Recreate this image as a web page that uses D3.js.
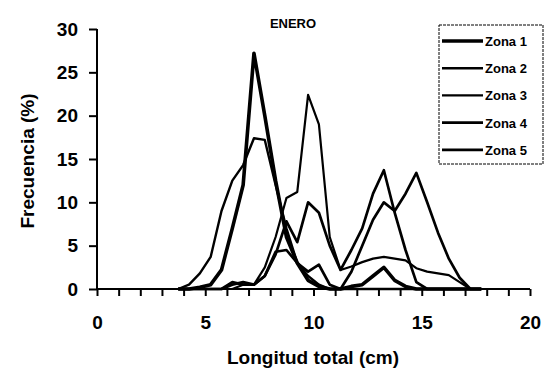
<!DOCTYPE html>
<html>
<head>
<meta charset="utf-8">
<script src="https://cdn.jsdelivr.net/npm/d3@7"></script>
<style>
  body { margin: 0; background: #fff; }
  svg { display: block; font-family: "Liberation Sans", Arial, sans-serif; }
</style>
</head>
<body>
<div id="grafico"></div>
<script>
// longitud (cm) - marcas de clase cada 0.5 cm
const longitudes = [3.75, 4.25, 4.75, 5.25, 5.75, 6.25, 6.75, 7.25, 7.75, 8.25, 8.75, 9.25, 9.75,
  10.25, 10.75, 11.25, 11.75, 12.25, 12.75, 13.25, 13.75, 14.25, 14.75, 15.25, 15.75, 16.25, 16.75, 17.25, 17.75];

const zonas = ["Zona 1", "Zona 2", "Zona 3", "Zona 4", "Zona 5"];

// frecuencias (%)
const zona1 = [0, 0, 0.2, 0.5, 2.2, 7, 12, 27.2, 20, 12.5, 6, 3, 1, 0.3, 0, 0, 0.3, 0.5, 1.5, 2.5, 1, 0.3, 0, 0, 0, 0, 0, 0, 0];
const zona2 = [0, 0.5, 1.8, 3.7, 9, 12.5, 14.3, 17.4, 17.2, 12, 7, 3, 1.5, 0.5, 0, 0, 0, 0, 0, 0, 0, 0, 0, 0, 0, 0, 0, 0, 0];
const zona3 = [0, 0, 0, 0, 0, 0, 0.5, 0.5, 2.5, 6, 10.5, 11.2, 22.4, 19, 6, 2.2, 2.6, 3.1, 3.5, 3.7, 3.5, 3.3, 2.4, 2, 1.8, 1.6, 0.8, 0, 0];
const zona4 = [0, 0, 0, 0, 0, 0.5, 0.8, 0.5, 1.5, 4, 7.8, 5.4, 10, 8.8, 5, 2.2, 4.5, 7, 11, 13.7, 8.8, 4.5, 0.8, 0, 0, 0, 0, 0, 0];
const zona5 = [0, 0, 0, 0, 0, 0.8, 0.5, 0.5, 1.5, 4.3, 4.5, 3, 2, 2.8, 0.5, 0, 2, 5, 8, 10, 9, 11, 13.4, 10, 6.5, 3.5, 1.3, 0, 0];

const series = [zona1, zona2, zona3, zona4, zona5];
const grosores = [3.6, 2.4, 2.2, 2.7, 2.7];

const ticksX = [0, 5, 10, 15, 20];
const ticksY = [0, 5, 10, 15, 20, 25, 30];

const width = 548, height = 392;
const margin = { top: 29, right: 18, bottom: 103, left: 97 };

const svg = d3.select("#grafico").append("svg")
  .attr("width", width)
  .attr("height", height);

const xScale = d3.scaleLinear().domain([0, 20]).range([margin.left, width - margin.right]);
const yScale = d3.scaleLinear().domain([0, 30]).range([height - margin.bottom, margin.top]);

// eje X con marcas menores cada 1 cm
const xAxis = d3.axisBottom(xScale)
  .tickValues(d3.range(0, 21, 1))
  .tickSize(7)
  .tickFormat(d => ticksX.includes(d) ? d : "");

const gx = svg.append("g")
  .attr("transform", `translate(0, ${yScale(0)})`)
  .call(xAxis);
gx.select(".domain").attr("stroke", "#000").attr("stroke-width", 2).attr("d", `M${xScale(0)},0H${xScale(20)}`);
gx.selectAll(".tick line").attr("stroke", "#000").attr("stroke-width", 2);
gx.selectAll(".tick text")
  .attr("dy", "1.6em")
  .style("font-size", "19px")
  .style("font-weight", "bold")
  .attr("fill", "#000");

const yAxis = d3.axisLeft(yScale)
  .tickValues(ticksY)
  .tickSize(8)
  .tickPadding(11);

const gy = svg.append("g")
  .attr("transform", `translate(${margin.left}, 0)`)
  .call(yAxis);
gy.select(".domain").attr("stroke", "#000").attr("stroke-width", 2).attr("d", `M0,${yScale(30)}V${yScale(0)}`);
gy.selectAll(".tick line").attr("stroke", "#000").attr("stroke-width", 2);
gy.selectAll(".tick text")
  .style("font-size", "19px")
  .style("font-weight", "bold")
  .attr("fill", "#000");

// lineas de cada zona
const linea = d3.line()
  .x((d, i) => xScale(longitudes[i]))
  .y(d => yScale(d));

svg.selectAll("path.zona")
  .data(series)
  .enter()
  .append("path")
  .attr("class", "zona")
  .attr("d", d => linea(d))
  .attr("fill", "none")
  .attr("stroke", "#000")
  .attr("stroke-width", (d, i) => grosores[i])
  .attr("stroke-linejoin", "round");

// titulos
svg.append("text")
  .attr("x", 293).attr("y", 28)
  .attr("text-anchor", "middle")
  .style("font-size", "13px")
  .style("font-weight", "bold")
  .text("ENERO");

svg.append("text")
  .attr("x", 313).attr("y", 364)
  .attr("text-anchor", "middle")
  .style("font-size", "19px")
  .style("font-weight", "bold")
  .text("Longitud total (cm)");

svg.append("text")
  .attr("transform", `translate(34, ${(yScale(0) + yScale(30)) / 2 + 2}) rotate(-90)`)
  .attr("text-anchor", "middle")
  .style("font-size", "19px")
  .style("font-weight", "bold")
  .text("Frecuencia (%)");

// leyenda
const leyenda = svg.append("g");
leyenda.append("rect")
  .attr("x", 439).attr("y", 25)
  .attr("width", 104).attr("height", 139)
  .attr("fill", "#fff")
  .attr("stroke", "#000")
  .attr("stroke-width", 1)
  .attr("stroke-dasharray", "3,1");

zonas.forEach((z, i) => {
  const y = 41 + i * 27.2;
  leyenda.append("line")
    .attr("x1", 442).attr("x2", 483)
    .attr("y1", y).attr("y2", y)
    .attr("stroke", "#000")
    .attr("stroke-width", grosores[i]);
  leyenda.append("text")
    .attr("x", 485).attr("y", y + 5)
    .style("font-size", "13px")
    .style("font-weight", "bold")
    .text(z);
});
</script>
</body>
</html>
